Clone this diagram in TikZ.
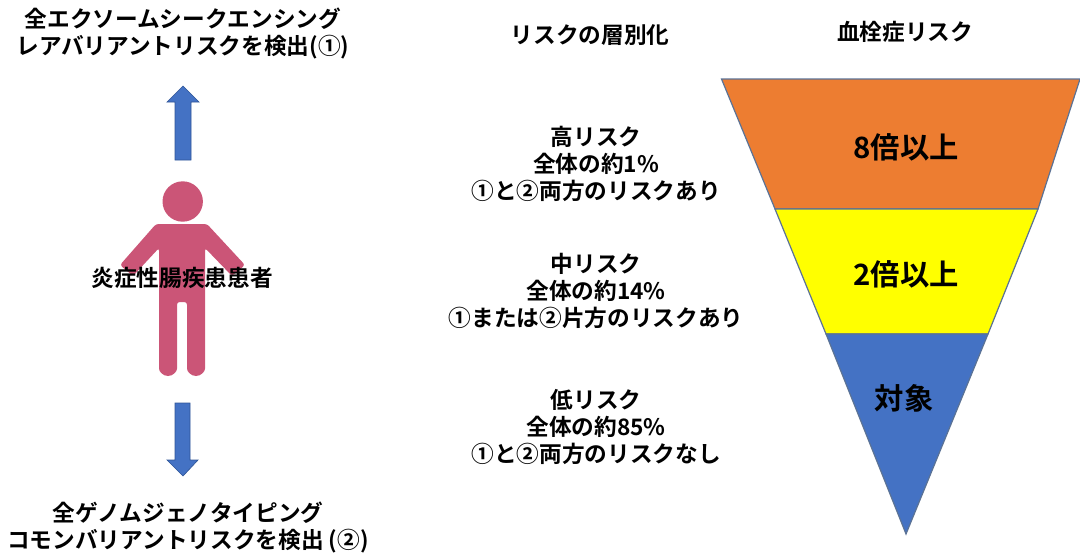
\documentclass[tikz,border=0pt]{standalone}
\usepackage{fontspec}
\setmainfont{Noto Sans CJK JP}[BoldFont={Noto Sans CJK JP Bold}]
\definecolor{arrowblue}{HTML}{4472C4}
\definecolor{arrowedge}{HTML}{2F5597}
\definecolor{figpink}{HTML}{CB5577}
\definecolor{funorange}{HTML}{ED7D31}
\definecolor{funyellow}{HTML}{FFFF00}
\definecolor{funedge}{HTML}{5B7295}
\tikzset{
  lbl/.style={align=center,inner sep=0pt,font=\fontsize{17pt}{20.25pt}\selectfont\bfseries},
  bandlbl/.style={inner sep=0pt,font=\fontsize{22pt}{26pt}\selectfont\bfseries},
  bigarrow/.style={fill=arrowblue,draw=arrowedge,line width=0.5pt},
  band/.style={draw=funedge,line width=0.9pt,line join=miter}
}
\begin{document}
\begin{tikzpicture}[x=0.75pt,y=-0.75pt]
\useasboundingbox (0,0) rectangle (1080,553);
% arrows
\path[bigarrow] (183,86) -- (199,102) -- (191,102) -- (191,160) -- (175,160) -- (175,102) -- (167,102) -- cycle;
\path[bigarrow] (183,476) -- (198,460) -- (190,460) -- (190,403) -- (175,403) -- (175,460) -- (167,460) -- cycle;
% person
\fill[figpink] (182.7,201.5) circle (20.2);
\fill[figpink,rounded corners=2pt]
  (156,224) -- (207,224) -- (245,265) -- (232,276) -- (205,248)
  -- (205,366) arc[start angle=0,end angle=180,x radius=9,y radius=10]
  -- (187,302) -- (177,302)
  -- (177,366) arc[start angle=0,end angle=180,x radius=9,y radius=10]
  -- (159,248) -- (133,276) -- (120,265) -- cycle;
% funnel
\path[band,fill=funorange] (721.5,79) -- (1080,79) -- (1038,209) -- (775,209) -- cycle;
\path[band,fill=funyellow] (775,209) -- (1038,209) -- (988,334) -- (826,334) -- cycle;
\path[band,fill=arrowblue] (826,334) -- (988,334) -- (906,534) -- cycle;
% labels
\node[lbl] (wes) at (183,33) {全エクソームシークエンシング\\レアバリアントリスクを検出(①)};
\node[lbl] (strat) at (590,35) {リスクの層別化};
\node[lbl] (vte) at (905,32) {血栓症リスク};
\node[lbl] (ibd) at (182,278) {炎症性腸疾患患者};
\node[lbl] (high) at (596,164) {高リスク\\全体の約1\%\\①と②両方のリスクあり};
\node[lbl] (mid) at (596,291) {中リスク\\全体の約14\%\\①または②片方のリスクあり};
\node[lbl] (low) at (596,427) {低リスク\\全体の約85\%\\①と②両方のリスクなし};
\node[lbl] (gwas) at (188,527) {全ゲノムジェノタイピング\\コモンバリアントリスクを検出 (②)};
\node[bandlbl] (r8) at (906,147) {8倍以上};
\node[bandlbl] (r2) at (906,274) {2倍以上};
\node[bandlbl] (r0) at (904,398) {対象};
\end{tikzpicture}
\end{document}
